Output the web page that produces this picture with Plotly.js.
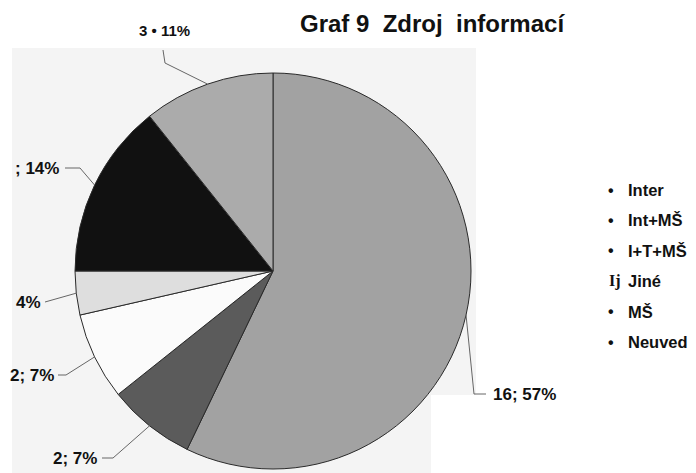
<!DOCTYPE html>
<html>
<head>
<meta charset="utf-8">
<script src="https://cdn.plot.ly/plotly-3.0.1.min.js"></script>
<style>html,body{margin:0;padding:0;background:#fff;}#chart{width:696px;height:473px;}</style>
</head>
<body>
<div id="chart"></div>
<script>
// ---- data ----
const categories = ['Inter', 'Int+MŠ', 'I+T+MŠ', 'Jiné', 'MŠ', 'Neuved'];
const values = [16, 2, 2, 1, 4, 3];
const sliceLabels = ['16; 57%', '2; 7%', '2; 7%', '4%', '; 14%', '3 • 11%'];
const legendMarkers = ['•', '•', '•', 'Ij', '•', '•'];
const sliceColors = ['#a2a2a2', '#5b5b5b', '#fbfbfb', '#dedede', '#111111', '#ababab'];

// ---- geometry (pixels) ----
const W = 696, H = 473;
const cx = 273, cy = 271, r = 198;
const px = x => x / W;
const py = y => 1 - y / H;
const FONT = '"Liberation Sans", Arial, sans-serif';

// label leader layout (pixels)
const leaders = [
  {elbow: [474, 394], end: [486, 394], tx: 491, ty: 394, anchor: 'left'},
  {elbow: [113, 458], end: [102, 458], tx: 99, ty: 458, anchor: 'right'},
  {elbow: [66, 375], end: [58, 375], tx: 56, ty: 375, anchor: 'right'},
  {elbow: null, end: [45, 302], tx: 43, ty: 302, anchor: 'right'},
  {elbow: [80, 168], end: [65, 168], tx: 61, ty: 168, anchor: 'right'},
  {elbow: [165, 63], end: [163, 50], tx: 164, ty: 31, anchor: 'center'}
];

const total = values.reduce((a, b) => a + b, 0);
const shapes = [];
// scanned background panel
shapes.push({
  type: 'path', xref: 'paper', yref: 'paper', layer: 'below',
  path: `M${px(12)},${py(48)} L${px(476)},${py(48)} L${px(476)},${py(395)} L${px(431)},${py(395)} L${px(431)},${py(473)} L${px(12)},${py(473)} Z`,
  fillcolor: '#f4f4f4', line: {width: 0}
});

const annotations = [];
let cum = 0;
values.forEach((v, i) => {
  const th = (cum + v / 2) / total * 2 * Math.PI;
  cum += v;
  const ex = cx + r * Math.sin(th), ey = cy - r * Math.cos(th);
  const L = leaders[i];
  let path = `M${px(ex)},${py(ey)}`;
  if (L.elbow) path += ` L${px(L.elbow[0])},${py(L.elbow[1])}`;
  path += ` L${px(L.end[0])},${py(L.end[1])}`;
  shapes.push({type: 'path', xref: 'paper', yref: 'paper', layer: 'above', path: path,
    line: {color: '#666', width: 1}});
  const small = i === 5;
  annotations.push({
    xref: 'paper', yref: 'paper', x: px(L.tx), y: py(L.ty),
    xanchor: L.anchor, yanchor: 'middle', showarrow: false,
    text: sliceLabels[i],
    font: {family: FONT, size: small ? 15 : 17, weight: 'bold', color: '#111'}
  });
});

// legend (bullets + names)
const legTop = 190, legStep = 30.4;
categories.forEach((c, i) => {
  const y = legTop + i * legStep;
  const isBullet = legendMarkers[i] === '•';
  annotations.push({
    xref: 'paper', yref: 'paper', x: px(isBullet ? 611 : 607), y: py(y),
    xanchor: isBullet ? 'center' : 'left', yanchor: 'middle', showarrow: false,
    text: legendMarkers[i],
    font: {family: isBullet ? FONT : '"Liberation Serif", serif', size: 16, weight: 'bold', color: '#111'}
  });
  annotations.push({
    xref: 'paper', yref: 'paper', x: px(626), y: py(y),
    xanchor: 'left', yanchor: 'middle', showarrow: false,
    text: c,
    font: {family: FONT, size: 16.5, weight: 'bold', color: '#111'}
  });
});

const trace = {
  type: 'pie',
  labels: categories,
  values: values,
  sort: false,
  direction: 'clockwise',
  rotation: 0,
  textinfo: 'none',
  hoverinfo: 'label+value+percent',
  marker: {colors: sliceColors, line: {color: '#2a2a2a', width: 1}},
  domain: {x: [px(cx - r), px(cx + r)], y: [py(cy + r), py(cy - r)]},
  showlegend: false
};

const layout = {
  width: W, height: H,
  margin: {l: 0, r: 0, t: 0, b: 0},
  paper_bgcolor: '#ffffff',
  showlegend: false,
  title: {
    text: 'Graf 9&nbsp; Zdroj&nbsp; informací',
    x: px(300), xanchor: 'left', xref: 'paper',
    y: py(24), yanchor: 'middle', yref: 'container',
    font: {family: FONT, size: 24, weight: 'bold', color: '#111'}
  },
  shapes: shapes,
  annotations: annotations
};

Plotly.newPlot('chart', [trace], layout, {displayModeBar: false, staticPlot: true});
</script>
</body>
</html>
